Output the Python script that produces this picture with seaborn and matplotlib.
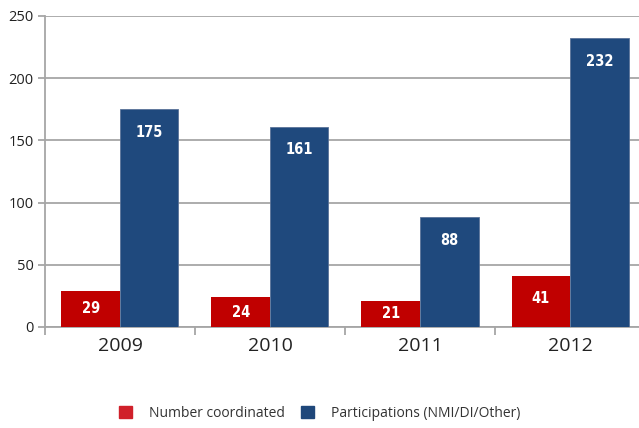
import pandas as pd
import matplotlib.pyplot as plt
import seaborn as sns

anos = ["2009", "2010", "2011", "2012"]
coordenados = [29, 24, 21, 41]
participacoes = [175, 161, 88, 232]
series = ["Number coordinated", "Participations (NMI/DI/Other)"]

dados = pd.DataFrame({
    "Ano": anos * 2,
    "Valor": coordenados + participacoes,
    "Serie": [series[0]] * len(anos) + [series[1]] * len(anos),
})

sns.set_style("white")
plt.rcParams["font.family"] = ["Open Sans", "DejaVu Sans"]

cores = {series[0]: "#C00000", series[1]: "#1F497D"}

fig = plt.figure(figsize=(6.39, 4.28), dpi=100)
# o eixo passa da borda direita da figura, como no original
ax = fig.add_axes([0.0704, 0.236, 0.939, 0.727])
sns.barplot(data=dados, x="Ano", y="Valor", hue="Serie", palette=cores,
            width=0.78, saturation=1, edgecolor="none", ax=ax, zorder=3)
for barra in ax.containers[1]:
    barra.set_edgecolor("#5A7398")
    barra.set_linewidth(0.6)

ax.set_ylim(0, 250)
ax.set_xlim(-0.5, 3.5)
ax.set_yticks(range(0, 251, 50))
ax.grid(axis="y", color="#A6A6A6", linewidth=1.3, zorder=0)
ax.set_xlabel("")
ax.set_ylabel("")

for lado in ["top", "right"]:
    ax.spines[lado].set_visible(False)
for lado in ["left", "bottom"]:
    ax.spines[lado].set_color("#A6A6A6")
    ax.spines[lado].set_linewidth(1.3)

ax.tick_params(axis="y", length=5, color="#A6A6A6", width=1.3, labelsize=10.5,
               labelcolor="#222222", pad=3, left=True)
ax.tick_params(axis="x", which="major", length=0, labelsize=14, labelcolor="#222222", pad=7)
ax.set_xticks([-0.5, 0.5, 1.5, 2.5, 3.5], minor=True)
ax.tick_params(axis="x", which="minor", length=6, color="#A6A6A6", width=1.3, bottom=True)

# rotulos dentro das barras
px_por_unidade = 0.727 * 428 / 250
for container in ax.containers:
    for barra in container:
        h = barra.get_height()
        alto_px = h * px_por_unidade
        desloc = -min(23, alto_px / 2) * 0.72
        ax.annotate(f"{int(h)}", (barra.get_x() + barra.get_width() / 2, h),
                    xytext=(0, desloc), textcoords="offset points",
                    ha="center", va="center", color="white", fontsize=10.5,
                    fontweight="bold", family=["DejaVu Sans"], fontstretch="condensed",
                    zorder=5)

ax.legend_.remove()
alcas = [plt.Rectangle((0, 0), 1, 1, color="#D0202A"),
         plt.Rectangle((0, 0), 1, 1, color="#1F477A")]
fig.legend(alcas, series, loc="center", bbox_to_anchor=(0.5, 0.035), ncol=2,
           frameon=False, fontsize=10, handlelength=0.95, handleheight=0.95,
           handletextpad=1.2, columnspacing=1.2, labelcolor="#333333")

fig.savefig("out.png", dpi=100)
